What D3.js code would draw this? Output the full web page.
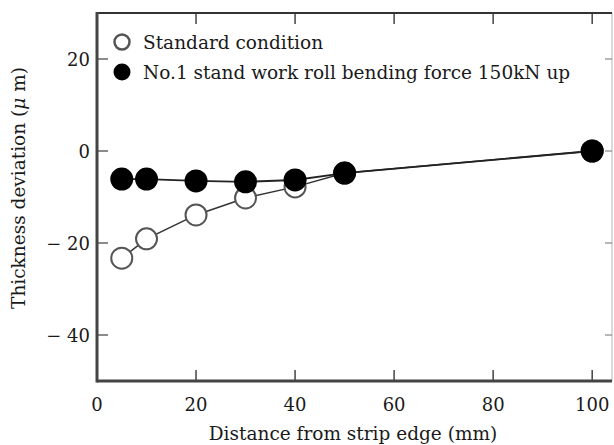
<!DOCTYPE html>
<html>
<head>
<meta charset="utf-8">
<script src="https://cdn.jsdelivr.net/npm/d3@7"></script>
<style>
  body { margin: 0; background: #fff; }
  svg text { font-family: "DejaVu Serif", serif; fill: #1a1a1a; }
</style>
</head>
<body>
<div id="chart"></div>
<script>
// data
const distance = [5, 10, 20, 30, 40, 50, 100];
const standard = [-23.3, -19.1, -13.9, -10.2, -7.8, -4.8, 0];
const bending = [-6.1, -6.1, -6.5, -6.7, -6.3, -4.8, 0];
const xTicks = [0, 20, 40, 60, 80, 100];
const yTicks = [-40, -20, 0, 20];
const seriesNames = ["Standard condition", "No.1 stand work roll bending force 150kN up"];

const width = 614;
const height = 445;
const margin = { top: 13, right: 2, bottom: 64, left: 97 };

const svg = d3.select("#chart")
  .append("svg")
  .attr("width", width)
  .attr("height", height);

const x = d3.scaleLinear()
  .domain([0, 104])
  .range([margin.left, width - margin.right]);

const y = d3.scaleLinear()
  .domain([-50, 30])
  .range([height - margin.bottom, margin.top]);

const fmt = d => d < 0 ? "\u2212 " + Math.abs(d) : d;

// frame: right side light, others dark
svg.append("line")
  .attr("x1", x(104)).attr("x2", x(104))
  .attr("y1", y(30)).attr("y2", y(-50))
  .attr("stroke", "#ccc").attr("stroke-width", 1.5);

// ticks (inward)
svg.append("g").selectAll("line")
  .data(xTicks.filter(d => d > 0))
  .join("line")
  .attr("x1", d => x(d)).attr("x2", d => x(d))
  .attr("y1", y(-50)).attr("y2", y(-50) - 11)
  .attr("stroke", "#444").attr("stroke-width", 1.5);

svg.append("g").selectAll("line")
  .data(xTicks.filter(d => d > 0))
  .join("line")
  .attr("x1", d => x(d)).attr("x2", d => x(d))
  .attr("y1", y(30)).attr("y2", y(30) + 11)
  .attr("stroke", "#444").attr("stroke-width", 1.5);

svg.append("g").selectAll("line")
  .data(yTicks)
  .join("line")
  .attr("x1", x(0)).attr("x2", x(0) + 11)
  .attr("y1", d => y(d)).attr("y2", d => y(d))
  .attr("stroke", "#666").attr("stroke-width", 1.5);

svg.append("g").selectAll("line")
  .data(yTicks)
  .join("line")
  .attr("x1", x(104)).attr("x2", x(104) - 7)
  .attr("y1", d => y(d)).attr("y2", d => y(d))
  .attr("stroke", "#888").attr("stroke-width", 1.2);

svg.append("line")
  .attr("x1", x(0)).attr("x2", x(104))
  .attr("y1", y(30)).attr("y2", y(30))
  .attr("stroke", "#333").attr("stroke-width", 2);

svg.append("line")
  .attr("x1", x(0)).attr("x2", x(104))
  .attr("y1", y(-50)).attr("y2", y(-50))
  .attr("stroke", "#444").attr("stroke-width", 3);

svg.append("line")
  .attr("x1", x(0)).attr("x2", x(0))
  .attr("y1", y(30) - 1).attr("y2", y(-50) + 1.5)
  .attr("stroke", "#444").attr("stroke-width", 3);

// tick labels
svg.append("g").selectAll("text")
  .data(xTicks)
  .join("text")
  .attr("x", d => x(d))
  .attr("y", y(-50) + 30)
  .attr("text-anchor", "middle")
  .attr("font-size", "18px")
  .text(d => d);

svg.append("g").selectAll("text")
  .data(yTicks)
  .join("text")
  .attr("x", x(0) - 7)
  .attr("y", d => y(d) + 6.5)
  .attr("text-anchor", "end")
  .attr("font-size", "18px")
  .text(fmt);

// axis titles
svg.append("text")
  .attr("x", 353)
  .attr("y", 440)
  .attr("text-anchor", "middle")
  .attr("font-size", "18.5px")
  .text("Distance from strip edge (mm)");

const yTitle = svg.append("text")
  .attr("transform", `translate(25, 188) rotate(-90)`)
  .attr("text-anchor", "middle")
  .attr("font-size", "18.5px");
yTitle.append("tspan").text("Thickness deviation (");
yTitle.append("tspan").attr("font-style", "italic").text("\u03bc");
yTitle.append("tspan").text(" m)");

// lines
const line = d3.line()
  .x((d, i) => x(distance[i]))
  .y(d => y(d));

svg.append("path")
  .datum(standard)
  .attr("d", line)
  .attr("fill", "none")
  .attr("stroke", "#333")
  .attr("stroke-width", 1.5);

svg.append("path")
  .datum(bending)
  .attr("d", line)
  .attr("fill", "none")
  .attr("stroke", "#222")
  .attr("stroke-width", 1.8);

// markers
svg.append("g").selectAll("circle")
  .data(standard)
  .join("circle")
  .attr("cx", (d, i) => x(distance[i]))
  .attr("cy", d => y(d))
  .attr("r", 10.5)
  .attr("fill", "#fff")
  .attr("stroke", "#555")
  .attr("stroke-width", 2);

svg.append("g").selectAll("circle")
  .data(bending)
  .join("circle")
  .attr("cx", (d, i) => x(distance[i]))
  .attr("cy", d => y(d))
  .attr("r", 11.5)
  .attr("fill", "#000");

// legend
const legend = svg.append("g");
legend.append("circle")
  .attr("cx", 122).attr("cy", 42).attr("r", 7.5)
  .attr("fill", "#fff").attr("stroke", "#555").attr("stroke-width", 2.5);
legend.append("circle")
  .attr("cx", 122).attr("cy", 72).attr("r", 8.5)
  .attr("fill", "#000");
legend.selectAll("text")
  .data(seriesNames)
  .join("text")
  .attr("x", 143)
  .attr("y", (d, i) => 49 + i * 30)
  .attr("font-size", "18.5px")
  .text(d => d);
</script>
</body>
</html>
